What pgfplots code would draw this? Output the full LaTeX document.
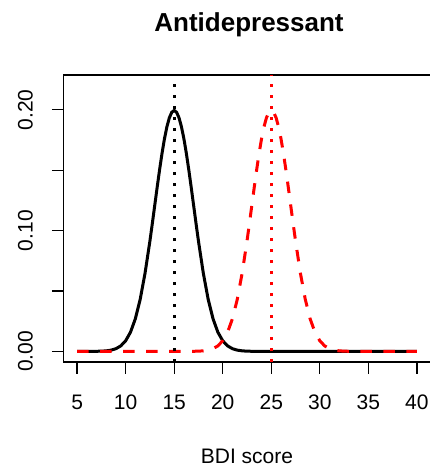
\documentclass[border=0pt]{standalone}
\usepackage{fontspec}
\setmainfont{Liberation Sans}
\usepackage{pgfplots}
\usepackage{pgfplotstable}
\pgfplotsset{compat=1.18}
\pgfplotstableread{
x y
5 0
6 0.000008
7 0.000067
7.5 0.000176
8 0.000436
8.5 0.001015
9 0.002216
9.5 0.004547
10 0.008764
10.5 0.015870
11 0.026995
11.5 0.043139
12 0.064759
12.5 0.091324
12.75 0.105938
13 0.120985
13.25 0.136027
13.5 0.150569
13.75 0.164080
14 0.176033
14.25 0.185927
14.5 0.193334
14.75 0.197919
15 0.199471
15.25 0.197919
15.5 0.193334
15.75 0.185927
16 0.176033
16.25 0.164080
16.5 0.150569
16.75 0.136027
17 0.120985
17.25 0.105938
17.5 0.091324
18 0.064759
18.5 0.043139
19 0.026995
19.5 0.015870
20 0.008764
20.5 0.004547
21 0.002216
21.5 0.001015
22 0.000436
22.5 0.000176
23 0.000067
24 0.000008
25 0
40 0
}\placebo
\pgfplotstableread{
x y
5 0
15 0
16 0.000008
17 0.000067
17.5 0.000176
18 0.000436
18.5 0.001015
19 0.002216
19.5 0.004547
20 0.008764
20.5 0.015870
21 0.026995
21.5 0.043139
22 0.064759
22.5 0.091324
22.75 0.105938
23 0.120985
23.25 0.136027
23.5 0.150569
23.75 0.164080
24 0.176033
24.25 0.185927
24.5 0.193334
24.75 0.197919
25 0.199471
25.25 0.197919
25.5 0.193334
25.75 0.185927
26 0.176033
26.25 0.164080
26.5 0.150569
26.75 0.136027
27 0.120985
27.25 0.105938
27.5 0.091324
28 0.064759
28.5 0.043139
29 0.026995
29.5 0.015870
30 0.008764
30.5 0.004547
31 0.002216
31.5 0.001015
32 0.000436
32.5 0.000176
33 0.000067
34 0.000008
35 0
40 0
}\antidep
\begin{document}
\begin{tikzpicture}
\begin{axis}[
  at={(0,0)}, anchor=south west,
  scale only axis, width=367pt, height=287pt,
  xmin=3.6, xmax=41.4, ymin=-0.0088, ymax=0.2288,
  axis line style={line width=1.2pt},
  tick align=outside, major tick length=11.5pt,
  tick style={line width=1.2pt, black},
  xtick pos=bottom, ytick pos=left,
  xtick={5,10,...,40},
  ytick={0,0.05,0.1,0.15,0.2},
  yticklabels={0.00,{},0.10,{},0.20},
  /pgf/number format/assume math mode=true,
  ticklabel style={font=\fontsize{21}{25}\selectfont},
  xticklabel style={anchor=north, inner sep=0pt, yshift=-21.5pt},
  yticklabel style={xshift=-19pt, rotate=90, anchor=south, inner sep=0pt},
  xlabel={BDI score},
  xlabel style={at={(axis description cs:0.5,0)}, anchor=base, yshift=-101pt, inner sep=0pt, font=\fontsize{21}{25}\selectfont},
  title={Antidepressant},
  title style={at={(axis description cs:0.5,1)}, anchor=base, yshift=37.8pt, xshift=2pt, inner sep=0pt, font=\bfseries\fontsize{26}{31}\selectfont},
]
\addplot[black, line width=3pt] table[x=x, y=y] {\placebo};
\addplot[red, line width=3pt, dash pattern=on 11.5pt off 11.5pt] table[x=x, y=y] {\antidep};
\addplot[black, line width=3pt, dash pattern=on 3pt off 8pt] coordinates {(15,-0.0088) (15,0.2288)};
\addplot[red, line width=3pt, dash pattern=on 3pt off 8pt] coordinates {(25,-0.0088) (25,0.2288)};
\end{axis}
\pgfresetboundingbox
\path (-63.5pt,-107pt) rectangle (366.3pt,362pt);
\end{tikzpicture}
\end{document}
